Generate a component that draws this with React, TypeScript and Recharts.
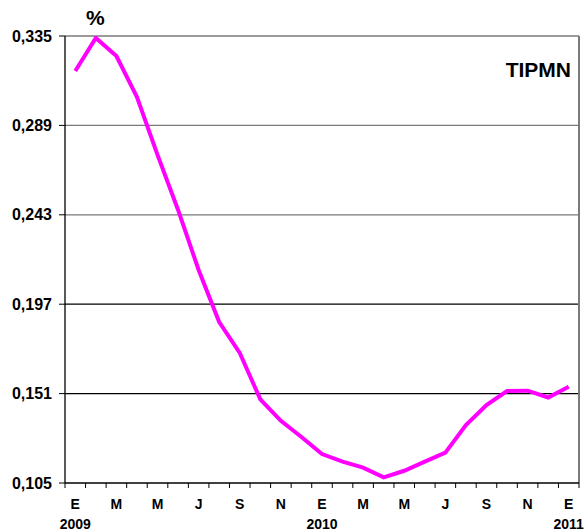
import React from "react";
import { LineChart, Line, XAxis, YAxis, ReferenceLine } from "recharts";

const months = ["E","F","M","A","M","J","J","A","S","O","N","D","E","F","M","A","M","J","J","A","S","O","N","D","E"];
const years = ["2009","","","","","","","","","","","","2010","","","","","","","","","","","","2011"];
const values = [0.317,0.334,0.3247,0.3036,0.2738,0.2455,0.2146,0.1878,0.1719,0.1480,0.1370,0.1287,0.1199,0.1160,0.1129,0.1079,0.1113,0.1160,0.1206,0.1348,0.1451,0.1523,0.1525,0.1490,0.1545];
const yTicks = [0.105,0.151,0.197,0.243,0.289,0.335];

const data = values.map((v, i) => ({ idx: i, v }));
const n = values.length;
const boundaries = Array.from({ length: n + 1 }, (_, i) => i - 0.5);
const labelIdx = values.map((_, i) => i).filter((i) => i % 2 === 0);
const xTicks = [...boundaries, ...labelIdx].sort((a, b) => a - b);

const FONT = "'Liberation Sans', Arial, sans-serif";
const gridColor = (t: number) => (t >= 0.243 ? "#7a7a7a" : "#000");

const XTick = (props: any) => {
  const { x, y, payload } = props;
  const val = payload.value;
  if (!Number.isInteger(val)) {
    return <line x1={x} x2={x} y1={y} y2={y + 5} stroke="#000" strokeWidth={1} />;
  }
  return (
    <g>
      <text x={x} y={y + 26} textAnchor="middle" fontFamily={FONT} fontWeight="bold" fontSize={14} fill="#000">
        {months[val]}
      </text>
      {years[val] ? (
        <text x={x} y={y + 46} textAnchor="middle" fontFamily={FONT} fontWeight="bold" fontSize={14} fill="#000">
          {years[val]}
        </text>
      ) : null}
    </g>
  );
};

export default function App() {
  return (
    <div style={{ position: "absolute", left: 0, top: 0, width: 585, height: 531, background: "#fff", fontFamily: FONT }}>
      <LineChart width={585} height={531} data={data} margin={{ top: 36, right: 6, left: 0, bottom: 0 }}>
        {yTicks.slice(1).map((t) => (
          <ReferenceLine key={t} y={t} stroke={gridColor(t)} strokeWidth={1.3} />
        ))}
        <ReferenceLine x={n - 0.5} stroke="#7a7a7a" strokeWidth={2} />
        <XAxis
          dataKey="idx"
          type="number"
          domain={[-0.5, n - 0.5]}
          ticks={xTicks}
          interval={0}
          tickLine={false}
          tickSize={0}
          tickMargin={0}
          height={48}
          axisLine={{ stroke: "#000", strokeWidth: 1.3 }}
          tick={<XTick />}
          allowDataOverflow
        />
        <YAxis
          type="number"
          domain={[0.105, 0.335]}
          ticks={yTicks}
          width={65}
          tickSize={6}
          tickMargin={7}
          interval={0}
          axisLine={{ stroke: "#000", strokeWidth: 1.3 }}
          tickLine={{ stroke: "#000" }}
          tickFormatter={(v: number) => v.toFixed(3).replace(".", ",")}
          tick={{ fontFamily: FONT, fontWeight: "bold", fontSize: 16, fill: "#000" }}
          allowDataOverflow
        />
        <Line dataKey="v" type="linear" stroke="#FF00FF" strokeWidth={4} dot={false} isAnimationActive={false} />
      </LineChart>
      <div style={{ position: "absolute", left: 86, top: 6, fontWeight: "bold", fontSize: 21, color: "#000" }}>%</div>
      <div style={{ position: "absolute", right: 14, top: 58, fontWeight: "bold", fontSize: 21, color: "#000" }}>TIPMN</div>
    </div>
  );
}
